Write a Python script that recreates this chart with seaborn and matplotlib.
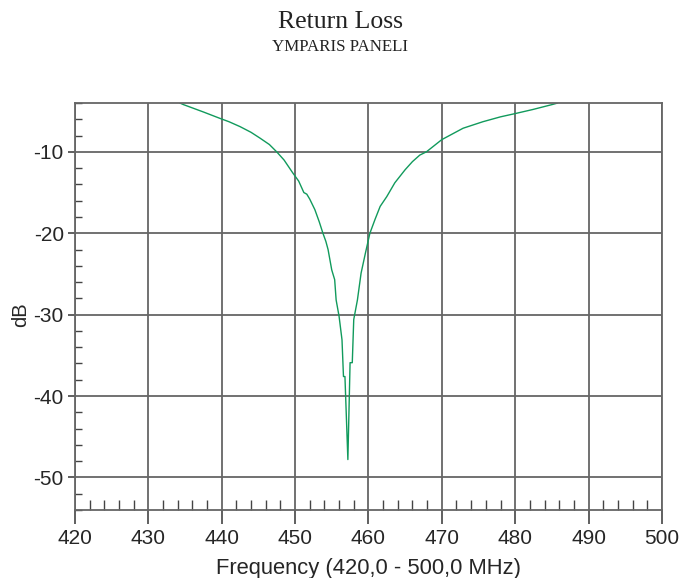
import matplotlib
matplotlib.use("Agg")
import matplotlib.pyplot as plt
import seaborn as sns
import pandas as pd
from matplotlib.ticker import MultipleLocator

# Data
freq_mhz = [434.3, 434.8, 436.0, 437.5, 439.8, 441.0, 442.5, 444.0, 445.2, 446.5,
            447.5, 448.5, 449.7, 450.5, 451.2, 451.6, 452.0, 452.7, 453.3, 453.8,
            454.2, 454.5, 455.0, 455.4, 455.6, 456.0, 456.4, 456.6, 456.8, 457.2,
            457.5, 457.8, 458.0, 458.5, 459.0, 459.6, 460.2, 460.9, 461.6, 462.5,
            463.6, 465.0, 466.0, 467.0, 467.9, 470.0, 472.9, 475.6, 478.0, 480.0,
            482.4, 485.0, 485.8]
return_loss_db = [-4.0, -4.2, -4.6, -5.1, -5.9, -6.3, -6.9, -7.6, -8.3, -9.1,
                  -10.0, -11.0, -12.6, -13.6, -15.0, -15.2, -15.8, -17.1, -18.6, -20.0,
                  -21.0, -22.0, -24.5, -25.7, -28.2, -30.2, -33.1, -37.6, -37.6, -47.8,
                  -35.9, -35.9, -30.6, -28.2, -24.9, -22.4, -20.0, -18.3, -16.7, -15.5,
                  -13.8, -12.2, -11.2, -10.4, -10.0, -8.5, -7.1, -6.3, -5.7, -5.3,
                  -4.8, -4.2, -4.0]
x_ticks = [420, 430, 440, 450, 460, 470, 480, 490, 500]
y_ticks = [-10, -20, -30, -40, -50]

title = "Return Loss"
subtitle = "YMPARIS PANELI"
x_label = "Frequency (420,0 - 500,0 MHz)"
y_label = "dB"

df = pd.DataFrame({"freq": freq_mhz, "db": return_loss_db})

sns.set_style("white")
plt.rcParams["font.family"] = ["Liberation Sans", "DejaVu Sans"]
plt.rcParams["axes.unicode_minus"] = False

fig = plt.figure(figsize=(6.81, 5.78), dpi=100)
ax = fig.add_axes([0.110, 0.1176, 0.862, 0.7042])

sns.lineplot(data=df, x="freq", y="db", ax=ax, color="#119a5c", linewidth=1.0,
             estimator=None, sort=False)

ax.set_xlim(420, 500)
ax.set_ylim(-54, -4)
ax.set_xticks(x_ticks)
ax.set_yticks(y_ticks)
ax.xaxis.set_minor_locator(MultipleLocator(2))
ax.yaxis.set_minor_locator(MultipleLocator(2))

ax.grid(True, which="major", color="#666666", linewidth=1.3)
ax.set_axisbelow(True)

for s in ax.spines.values():
    s.set_color("#666666")
    s.set_linewidth(1.3)

ax.tick_params(axis="x", which="major", direction="out", length=10, width=1.2,
               color="#444444", labelsize=15, pad=4)
ax.tick_params(axis="x", which="minor", direction="in", length=7, width=1.0,
               color="#444444")
ax.tick_params(axis="y", which="major", direction="out", length=5, width=1.2,
               color="#444444", labelsize=15, pad=3)
ax.tick_params(axis="y", which="minor", direction="in", length=5, width=1.0,
               color="#444444")
ax.tick_params(axis="x", which="both", bottom=True, top=False)
ax.tick_params(axis="y", which="both", left=True, right=False)

ax.set_xlabel(x_label, fontsize=15.8, labelpad=0)
ax.set_ylabel(y_label, fontsize=14.5)
ax.xaxis.set_label_coords(0.5, -0.118)
ax.yaxis.set_label_coords(-0.077, 0.479)

fig.text(0.5, 0.962, title, ha="center", va="center", fontsize=18.5,
         family="Liberation Serif", color="#222222")
fig.text(0.5, 0.919, subtitle, ha="center", va="center", fontsize=12.2,
         family="Liberation Serif", color="#222222")

fig.savefig("out.png", dpi=100)
